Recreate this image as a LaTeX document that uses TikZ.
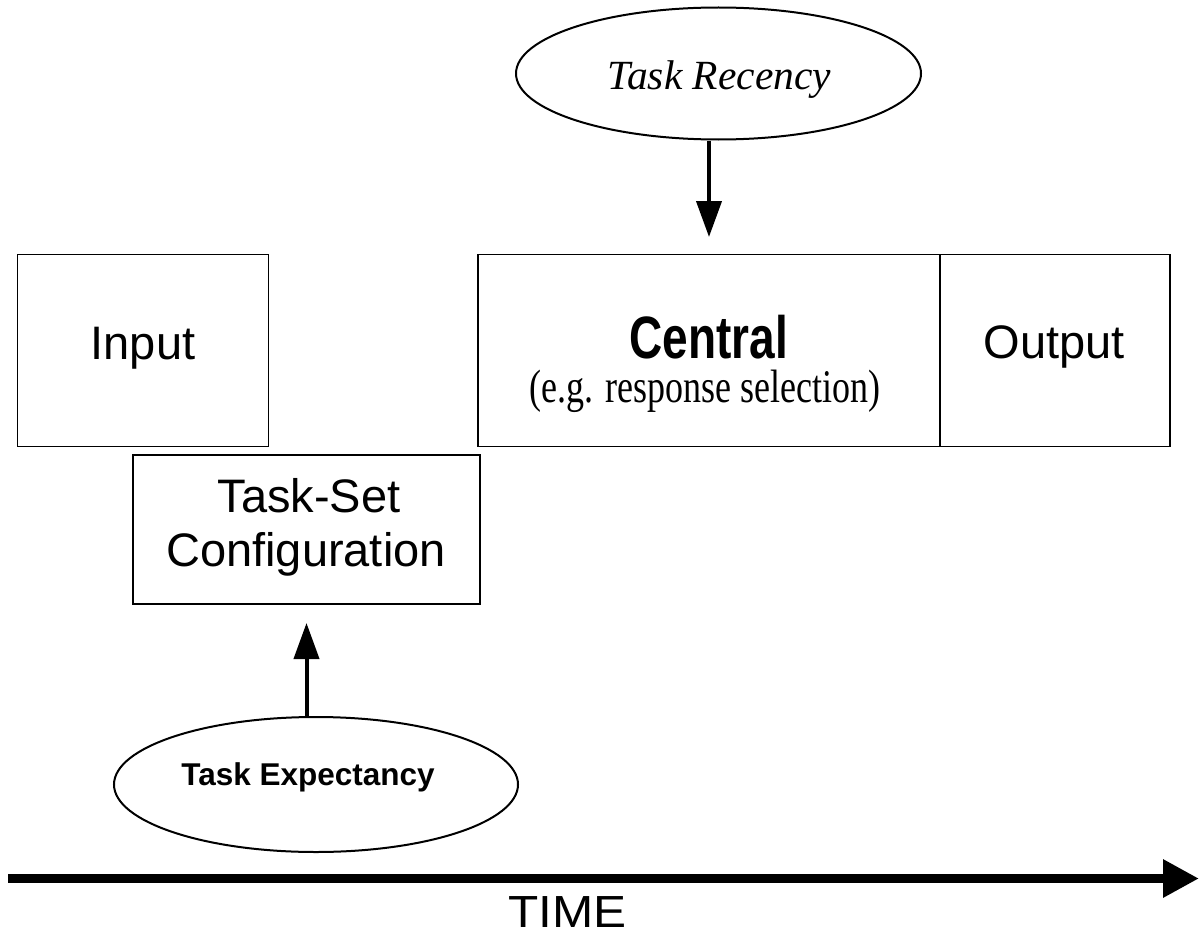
\documentclass[tikz,border=0pt]{standalone}
\usepackage{fontspec}
\setmainfont{Liberation Serif}
\newfontfamily\arialf{Liberation Sans}
\usetikzlibrary{shapes.geometric,arrows.meta}
\begin{document}
\begin{tikzpicture}[x=1pt,y=-1pt,
  box/.style={draw=black,line width=1.5pt,rectangle,inner sep=0pt},
  oval/.style={draw=black,line width=2pt,ellipse,inner sep=0pt},
  sanstxt/.style={anchor=base,inner sep=0pt,font=\arialf\fontsize{47}{56}\selectfont},
  arr/.style={line width=4pt,-{Triangle[length=36pt,width=25pt]}},
  timearr/.style={line width=9pt,-{Triangle[length=36pt,width=36pt]}}]
\useasboundingbox (0,0) rectangle (1201,939);
% boxes
\node[box,minimum width=251pt,minimum height=192pt] (input) at (142.75,350.25) {};
\node[box,minimum width=462pt,minimum height=192pt] (central) at (709,350.25) {};
\node[box,minimum width=230pt,minimum height=192pt] (output) at (1055,350.25) {};
\node[box,minimum width=347pt,minimum height=149pt] (taskset) at (306.5,529.5) {};
% texts in boxes
\node[sanstxt] (inputtxt) at (143,359) {Input};
\node[anchor=base,inner sep=0pt] (centraltxt) at (709,358) {\scalebox{1}[1.3]{\arialf\bfseries\fontsize{46}{56}\selectfont Central}};
\node[anchor=base,inner sep=0pt] (egtxt) at (705,402) {\scalebox{1}[1.3]{\fontsize{36}{42}\selectfont (e.g. response selection)}};
\node[sanstxt] (outputtxt) at (1054,358) {Output};
\node[sanstxt] (tstxt1) at (309,512) {Task-Set};
\node[sanstxt] (tstxt2) at (306,566) {Configuration};
% ellipses
\node[oval,minimum width=405pt,minimum height=132pt] (recency) at (718.5,73.5) {};
\node[anchor=base,inner sep=0pt] (recencytxt) at (719.5,90) {\fontsize{41.5}{48}\selectfont\itshape Task Recency};
\node[oval,minimum width=404pt,minimum height=135pt] (expect) at (316,784.5) {};
\node[anchor=base,inner sep=0pt] (expecttxt) at (308,785) {\arialf\bfseries\fontsize{31.5}{38}\selectfont Task Expectancy};
% arrows
\coordinate (rtip) at (709,237);
\draw[arr] (rtip |- recency.south) -- (rtip);
\coordinate (etip) at (306.5,623);
\draw[arr] (etip |- expect.north) -- (etip);
% time axis
\coordinate (tstart) at (8,878.5);
\coordinate (tend) at (1199,878.5);
\draw[timearr] (tstart) -- (tend);
\node[anchor=base,inner sep=0pt] (timetxt) at (567.5,927) {\scalebox{1.1}[1]{\arialf\fontsize{45}{54}\selectfont TIME}};
\end{tikzpicture}
\end{document}
